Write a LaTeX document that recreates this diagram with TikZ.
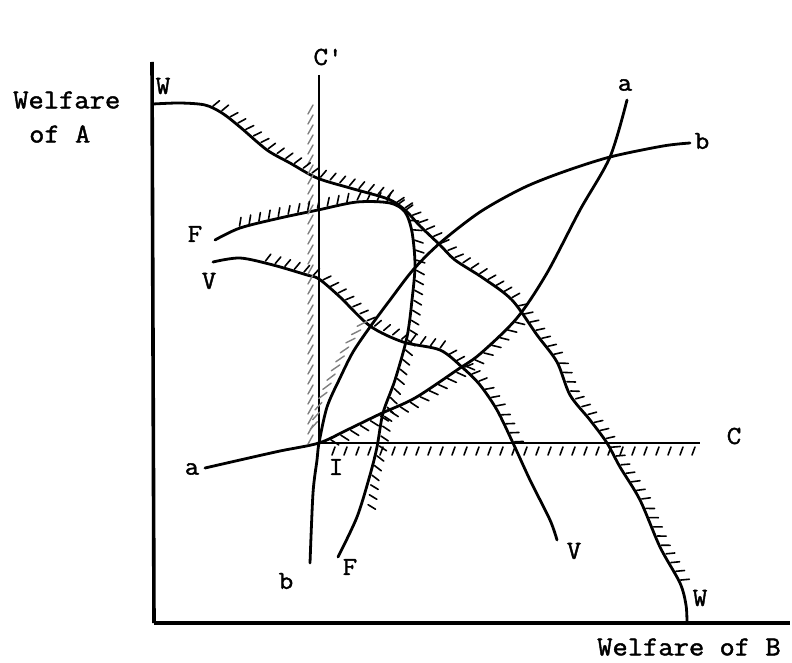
\documentclass[tikz,border=0pt]{standalone}
\usepackage{fontspec}
\setmonofont{Latin Modern Mono}[FakeBold=1.6, FakeStretch=1.08]
\usetikzlibrary{decorations.markings}
\begin{document}
\begin{tikzpicture}[x=1pt,y=-1pt,
  lab/.style={font=\ttfamily\fontsize{26}{26}\selectfont, inner sep=0pt},
  axlab/.style={font=\ttfamily\fontsize{27.5}{27.5}\selectfont, inner sep=0pt, anchor=west},
  curve/.style={line width=2.8pt, line cap=round, line join=round},
  axisline/.style={line width=3.6pt},
  ruler/.style={line width=2.5pt},
  hatchL/.style={postaction={decorate,decoration={markings,mark=between positions 0 and 1 step 10pt with {\draw[line width=1.6pt,line cap=round] (0pt,2pt) -- (3.5pt,10pt);}}}},
  hatchR/.style={postaction={decorate,decoration={markings,mark=between positions 0 and 1 step 12pt with {\draw[line width=1.6pt,line cap=round] (0pt,-4pt) -- (-3pt,-12pt);}}}},
  hatchA/.style={postaction={decorate,decoration={markings,mark=between positions 0 and 1 step 11pt with {\draw[line width=1.6pt,line cap=round] (0pt,-2pt) -- (5pt,-10pt);}}}},
  hatchG/.style={postaction={decorate,decoration={markings,mark=between positions 0 and 1 step 10pt with {\draw[line width=1.4pt,line cap=round,black!50] (-4pt,11pt) -- (5pt,6pt);}}}}
]
\useasboundingbox (0,0) rectangle (792,663);

% axes
\coordinate (O) at (154,623);
\coordinate (Ytop) at (152,62);
\coordinate (Xend) at (790,623);
\draw[axisline] (O) -- (Ytop);
\draw[axisline] (O) -- (Xend);

% constraint lines
\coordinate (I) at (319,443);
\coordinate (Ctop) at (319,75);
\coordinate (Cend) at (700,443);
\draw[ruler] (Ctop) -- (I);
\draw[ruler] (I) -- (Cend);

% curves
\draw[curve] plot[smooth] coordinates {(153,104) (180,103) (205,105) (222,113) (240,127) (267,150) (290,163) (317,178) (350,188) (388,199) (405,210) (420,226) (440,245) (455,260) (483,278) (512,300) (537,335) (557,362) (570,395) (590,420) (607,443) (620,467) (640,500) (660,547) (680,583) (686,605) (687,623)};
\draw[curve] plot[smooth] coordinates {(215,240) (240,228) (280,218) (318,210) (357,202) (390,203) (405,212) (412,232) (415,265) (412,300) (407,337) (395,380) (383,413) (377,447) (370,475) (357,517) (338,557)};
\draw[curve] plot[smooth] coordinates {(213,262) (240,258) (273,265) (307,275) (319,279) (340,297) (370,326) (403,342) (440,350) (463,368) (480,385) (497,410) (513,443) (530,480) (550,520) (557,540)};
\draw[curve] plot[smooth] coordinates {(205,468) (240,460) (280,451) (319,443) (347,430) (380,414) (415,398) (457,370) (480,354) (517,318) (547,273) (580,210) (610,157) (627,100)};
\draw[curve] plot[smooth] coordinates {(310,563) (313,493) (317,460) (319,443) (327,407) (340,378) (353,352) (370,327) (390,300) (413,270) (440,243) (480,212) (523,188) (563,172) (610,157) (663,146) (690,143)};

% hatching (polylines following the curves)
\path[hatchG] (319,440) -- (319,105);
\path[hatchR] (335,443) -- (700,443);
\path[hatchL] (212,108) -- (222,113) -- (240,127) -- (267,150) -- (290,163) -- (317,178) -- (350,188) -- (388,199) -- (405,210) -- (420,226) -- (440,245) -- (455,260) -- (483,278) -- (512,300) -- (537,335) -- (557,362) -- (570,395) -- (590,420) -- (607,443) -- (620,467) -- (640,500) -- (660,547) -- (680,583);
\path[hatchL] (240,228) -- (280,218) -- (318,210) -- (357,202) -- (390,203) -- (405,212) -- (412,232) -- (415,265) -- (412,300) -- (407,337) -- (395,380) -- (383,413) -- (377,447) -- (370,475) -- (366,505);
\path[hatchL] (265,263) -- (273,265) -- (307,275) -- (319,279) -- (340,297) -- (370,326) -- (403,342) -- (440,350) -- (463,368) -- (480,385) -- (497,410) -- (513,443);
\path[hatchA] (330,438) -- (347,430) -- (380,414) -- (415,398) -- (457,370) -- (480,354) -- (517,318);
\path[hatchG] (322,428) -- (327,407) -- (340,378) -- (353,352) -- (370,327);

% labels
\node[axlab] (wa1) at (13,100) {Welfare};
\node[axlab] (wa2) at (29,134) {of A};
\node[axlab] (wb) at (597,647) {Welfare of B};
\node[lab] (Wt) at (163,86) {W};
\node[lab] (Wb) at (700,598) {W};
\node[lab] (Fl) at (195,234) {F};
\node[lab] (Fb) at (350,567) {F};
\node[lab] (Vl) at (209,281) {V};
\node[lab] (Vb) at (574,551) {V};
\node[lab] (al) at (192,469) {a};
\node[lab] (at) at (625,85) {a};
\node[lab] (bb) at (286,581) {b};
\node[lab] (bt) at (702,141) {b};
\node[lab] (Cl) at (734,436) {C};
\node[lab] (Cp) at (328,57) {C'};
\node[lab] (Il) at (336,467) {I};
\end{tikzpicture}
\end{document}
